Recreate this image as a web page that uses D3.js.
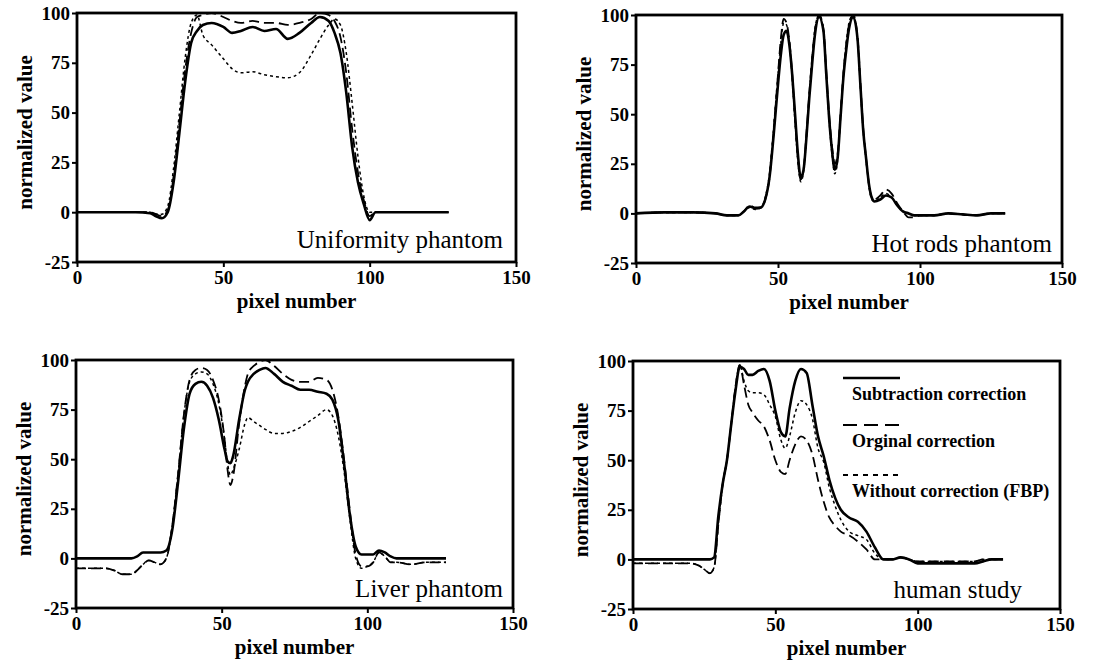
<!DOCTYPE html>
<html lang="en">
<head>
<meta charset="UTF-8">
<title>Profile comparison</title>
<style>
  body { margin: 0; background: #FFFFFF; }
  svg { display: block; }
  text { font-family: "Liberation Serif", "Times New Roman", serif; fill: #000; }
</style>
</head>
<body>
<svg id="chart" width="1097" height="669"></svg>
<script src="https://d3js.org/d3.v7.min.js"></script>
<script>
// ---- data ----
const xTicks = [0, 50, 100, 150];
const yTicks = [-25, 0, 25, 50, 75, 100];
const seriesNames = ["Subtraction correction", "Orginal correction", "Without correction (FBP)"];
const panelLabels = ["Uniformity phantom", "Hot rods phantom", "Liver phantom", "human study"];

// uniformity phantom
const uniX    = [0, 10, 20, 25, 27, 29, 31, 33, 35, 37, 39, 41, 43, 46, 50, 53, 56, 60, 64, 68, 72, 76, 80, 83, 86, 88, 90, 92, 94, 96, 98, 100, 102, 110, 120, 127];
const uniSub  = [0, 0, 0, -0.5, -2, -3, 0, 15, 40, 66, 85, 91, 94, 95, 93, 90, 91, 93, 91, 92, 87, 90, 95, 98, 96, 90, 80, 60, 33, 15, 4, -4, 0, 0, 0, 0];
const uniOrig = [0, 0, 0, 0, -1, -2, 1, 18, 45, 72, 90, 98, 99, 100, 98, 96, 95, 96, 95, 95, 94, 95, 97, 100, 99, 96, 88, 70, 42, 20, 6, -2, 0, 0, 0, 0];
const uniFbp  = [0, 0, 0, 0, -1, -1, 3, 22, 50, 78, 95, 99, 89, 84, 77, 72, 70, 70.5, 69, 68, 67.5, 70, 79, 87, 94, 97, 94, 80, 55, 28, 8, 0, 0, 0, 0, 0];

// hot rods phantom
const rodX    = [0, 10, 20, 28, 32, 36, 38, 40, 42, 44, 45.5, 47, 48.5, 50, 51, 52, 53, 54, 55, 56, 57, 58, 59, 60, 61, 62, 63, 64.5, 66, 67, 68, 69, 70, 71, 72, 73, 74, 75, 76.5, 78, 79, 80, 81, 82, 83, 84, 86, 88, 90, 92, 94, 96, 98, 100, 105, 110, 115, 120, 125, 130];
const rodSub  = [0, 0.5, 0.5, 0, -1, -1, 1, 3.5, 2.5, 3, 7, 18, 40, 65, 80, 90, 92, 85, 70, 50, 30, 18, 22, 38, 58, 75, 90, 99, 92, 70, 48, 32, 22, 28, 48, 68, 82, 93, 99, 88, 65, 42, 28, 15, 8, 6, 7, 9, 8, 4, 1, 0, -1, -1, -1, 0, -0.5, -1, 0, 0];
const rodOrig = [0, 0.5, 0.5, 0, -1, -1, 1, 4, 3, 3, 7, 18, 42, 70, 88, 98, 96, 87, 70, 48, 28, 17, 22, 40, 60, 78, 92, 100, 93, 72, 50, 34, 25, 30, 50, 70, 85, 95, 100, 89, 66, 43, 28, 15, 8, 7, 9, 12, 10, 5, 1, -2, -2, -1, -1, 0, -0.5, -1, 0, 0];
const rodFbp  = [0, 0.5, 0.5, 0, -1, -1, 1, 3, 2, 3, 8, 20, 44, 70, 86, 96, 95, 86, 68, 46, 26, 16, 21, 38, 60, 78, 93, 100, 92, 70, 47, 30, 20, 27, 48, 70, 86, 96, 100, 88, 64, 42, 27, 14, 7, 6, 8, 10, 8, 4, 1, 0, -1, -1, -1, 0, -0.5, -1, 0, 0];

// liver phantom
const livX    = [0, 5, 10, 13, 16, 19, 21, 23, 25, 27, 29, 31, 33, 35, 37, 39, 41, 43, 45, 47, 49, 51, 52, 53, 54, 56, 58, 59, 61, 63, 65, 68, 71, 74, 77, 80, 83, 86, 88, 90, 92, 94, 96, 98, 100, 102, 104, 106, 108, 110, 115, 120, 127];
const livSub  = [0, 0, 0, 0, 0, 0, 1, 3, 3, 3, 3, 4, 14, 38, 65, 83, 88, 89, 87, 81, 70, 55, 49, 48, 52, 70, 85, 89, 93, 95, 96, 93, 89, 87, 85, 85, 84, 83, 80, 70, 48, 22, 6, 2, 2, 2, 4, 3, 1, 0, 0, 0, 0];
const livOrig = [-5, -5, -5, -6, -8, -8, -6, -3, -1, -2, -3, 0, 16, 42, 72, 90, 95, 96, 95, 90, 80, 60, 45, 37, 42, 68, 87, 93, 97, 99, 100, 97, 93, 90, 89, 89, 91, 90, 85, 72, 50, 24, 2, -4, -4, -2, 3, 1, -2, -2, -3, -2, -2];
const livFbp  = [-5, -5, -5, -6, -8, -8, -6, -3, -1, -2, -3, 0, 16, 42, 72, 89, 93, 94, 93, 88, 78, 60, 48, 42, 45, 55, 68, 71, 69, 67, 65, 63, 63, 64, 66, 69, 72, 75, 72, 62, 44, 20, 0, -5, -4, -2, 3, 1, -2, -2, -3, -2, -2];

// human study
const humX    = [0, 10, 20, 23, 25, 27, 28.5, 30, 31.5, 33, 34.5, 36, 37.5, 39, 40.5, 42, 44, 46, 48, 50, 52, 53.5, 55, 57, 59, 61, 63, 65, 67, 69, 71, 73, 76, 79, 82, 85, 88, 91, 94, 97, 100, 105, 110, 115, 120, 123, 126, 130];
const humSub  = [0, 0, 0, 0, 0, 0, 1, 22, 38, 50, 68, 85, 97, 96, 93, 93, 95, 96, 90, 75, 64, 62, 76, 90, 96, 94, 78, 62, 52, 40, 31, 25, 21, 19, 14, 6, 0, 0, 1, 0, -2, -2, -2, -2, -2, -1, 0, 0];
const humOrig = [-2, -2, -2, -3, -5, -7, -4, 18, 38, 50, 68, 87, 98, 88, 78, 74, 70, 67, 60, 50, 44, 43, 50, 58, 62, 60, 53, 40, 29, 21, 17, 14, 12, 9, 5, 0, 0, 0, 1, 0, -1, -1, -1, -1, -1, 0, 0, 0];
const humFbp  = [-2, -2, -2, -3, -5, -7, -4, 18, 38, 50, 68, 87, 98, 90, 85, 84, 84, 83, 78, 72, 60, 56, 62, 74, 80, 78, 71, 56, 49, 36, 27, 20, 14, 12, 10, 3, 0, 0, 1, 0, -1, -1, -1, -1, -1, 0, 0, 0];

// ---- layout ----
const boxes = [
    { x0: 77,  x1: 516,  y0: 13,  y1: 262, lx: 503,  ly: 248 },
    { x0: 636, x1: 1062, y0: 15,  y1: 263, lx: 1052, ly: 252 },
    { x0: 76,  x1: 513,  y0: 360, y1: 608, lx: 503,  ly: 597 },
    { x0: 633, x1: 1060, y0: 361, y1: 609, lx: 1022, ly: 598 }
];
const panelData = [
    { x: uniX, series: [uniSub, uniOrig, uniFbp] },
    { x: rodX, series: [rodSub, rodOrig, rodFbp] },
    { x: livX, series: [livSub, livOrig, livFbp] },
    { x: humX, series: [humSub, humOrig, humFbp] }
];
const styles = [
    { width: 2.6, dash: null },
    { width: 1.8, dash: "10,5" },
    { width: 1.5, dash: "3,3" }
];

const svg = d3.select("#chart");

// plain hyphen for negatives, like the original
const fmt = d => String(d);

panelData.forEach((p, i) => {
    const b = boxes[i];
    const x = d3.scaleLinear().domain([0, 150]).range([b.x0, b.x1]);
    const y = d3.scaleLinear().domain([-25, 100]).range([b.y1, b.y0]);
    const g = svg.append("g");

    // axes
    g.append("g")
        .attr("transform", `translate(0,${b.y1})`)
        .call(d3.axisBottom(x).tickValues(xTicks).tickSize(5).tickPadding(4).tickFormat(fmt))
        .call(a => a.select(".domain").remove())
        .call(a => a.selectAll("line").attr("stroke", "#000").attr("stroke-width", 2))
        .call(a => a.selectAll("text")
            .attr("font-family", "Liberation Serif, serif")
            .attr("font-size", 19).attr("font-weight", "bold"));

    g.append("g")
        .attr("transform", `translate(${b.x0},0)`)
        .call(d3.axisLeft(y).tickValues(yTicks).tickSize(5).tickPadding(2).tickFormat(fmt))
        .call(a => a.select(".domain").remove())
        .call(a => a.selectAll("line").attr("stroke", "#000").attr("stroke-width", 2))
        .call(a => a.selectAll("text")
            .attr("font-family", "Liberation Serif, serif")
            .attr("font-size", 19).attr("font-weight", "bold"));

    // frame
    g.append("rect")
        .attr("x", b.x0).attr("y", b.y0)
        .attr("width", b.x1 - b.x0).attr("height", b.y1 - b.y0)
        .attr("fill", "none").attr("stroke", "#000").attr("stroke-width", 2.8);

    // axis titles
    g.append("text")
        .attr("x", (b.x0 + b.x1) / 2).attr("y", b.y1 + 46)
        .attr("text-anchor", "middle")
        .attr("font-size", 21).attr("font-weight", "bold")
        .text("pixel number");

    g.append("text")
        .attr("transform", `translate(${b.x0 - 45},${(b.y0 + b.y1) / 2 - 5}) rotate(-90)`)
        .attr("text-anchor", "middle")
        .attr("font-size", 21).attr("font-weight", "bold")
        .text("normalized value");

    // profile curves
    const line = d3.line()
        .x(d => x(d[0]))
        .y(d => y(d[1]))
        .curve(d3.curveMonotoneX);

    p.series.forEach((vals, k) => {
        const pts = p.x.map((xv, j) => [xv, vals[j]]);
        g.append("path")
            .datum(pts)
            .attr("d", line)
            .attr("fill", "none")
            .attr("stroke", "#000")
            .attr("stroke-width", styles[k].width)
            .attr("stroke-dasharray", styles[k].dash)
            .attr("stroke-linejoin", "round");
    });

    // panel label
    g.append("text")
        .attr("x", b.lx).attr("y", b.ly)
        .attr("text-anchor", "end")
        .attr("font-size", 25)
        .text(panelLabels[i]);
});

// legend inside the human study panel
const lb = boxes[3];
const legendRows = [17, 64, 114];
seriesNames.forEach((name, k) => {
    const ly = lb.y0 + legendRows[k];
    svg.append("line")
        .attr("x1", lb.x0 + 210).attr("x2", lb.x0 + 267)
        .attr("y1", ly).attr("y2", ly)
        .attr("stroke", "#000")
        .attr("stroke-width", k === 0 ? 2.6 : 2.2)
        .attr("stroke-dasharray", k === 0 ? null : (k === 1 ? "14,7" : "5,5"));
    svg.append("text")
        .attr("x", lb.x0 + 219).attr("y", ly + 22)
        .attr("font-size", 18).attr("font-weight", "bold")
        .text(name);
});
</script>
</body>
</html>
